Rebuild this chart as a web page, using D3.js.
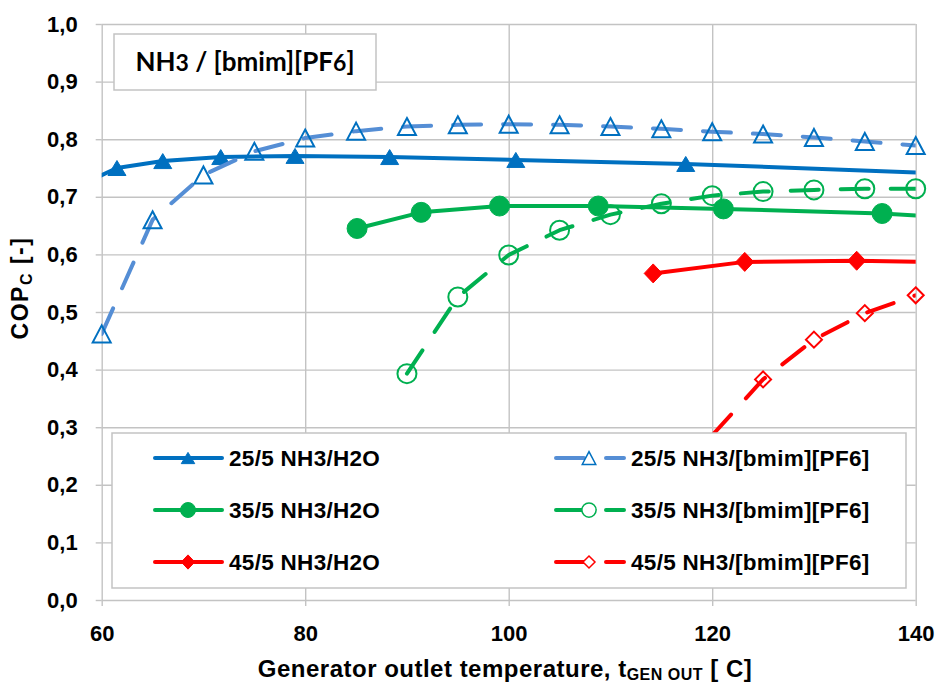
<!doctype html>
<html>
<head>
<meta charset="utf-8">
<style>
    body { margin: 0; background: #fff; }
    svg { font-family: "Liberation Sans", Arial, sans-serif; font-weight: bold; }
    .grid line { stroke: #c3c3c3; stroke-width: 1.4; }
    .grid path { display: none; }
    .axis path { display: none; }
    .axis line { stroke: #c3c3c3; stroke-width: 1.4; }
    .axis text { fill: #000; font-size: 22px; font-weight: bold; font-family: "Liberation Sans", Arial, sans-serif; }
</style>
<script src="https://d3js.org/d3.v7.min.js"></script>
</head>
<body>
<svg width="938" height="686"></svg>
<script>

// axis ticks
var xTicks = [60, 80, 100, 120, 140];
var yTicks = [0, 0.1, 0.2, 0.3, 0.4, 0.5, 0.6, 0.7, 0.8, 0.9, 1.0];

// generator outlet temperature [C] and COP
// (first / last points of the solid series sit just outside the axis range)
var h2o25Temp = [58.0, 61.5, 66.0, 71.7, 79.0, 88.3, 100.7, 117.4, 145];
var h2o25Cop  = [0.721, 0.750, 0.762, 0.769, 0.771, 0.769, 0.764, 0.757, 0.739];

var bmim25Temp = [60, 65, 70, 75, 80, 85, 90, 95, 100, 105, 110, 115, 120, 125, 130, 135, 140];
var bmim25Cop  = [0.462, 0.660, 0.738, 0.779, 0.802, 0.814, 0.822, 0.825, 0.826, 0.825, 0.822, 0.818, 0.813, 0.809, 0.803, 0.796, 0.789];

var h2o35Temp = [85.1, 91.4, 99.1, 108.8, 121.1, 136.7, 156];
var h2o35Cop  = [0.645, 0.673, 0.684, 0.684, 0.679, 0.671, 0.652];

var bmim35Temp = [90, 95, 100, 105, 110, 115, 120, 125, 130, 135, 140];
var bmim35Cop  = [0.393, 0.526, 0.599, 0.642, 0.669, 0.688, 0.702, 0.709, 0.712, 0.714, 0.714];

var h2o45Temp = [114.2, 123.2, 134.2, 148];
var h2o45Cop  = [0.567, 0.587, 0.589, 0.585];

var bmim45Temp = [120, 125, 130, 135, 140];
var bmim45Cop  = [0.286, 0.383, 0.452, 0.498, 0.529];

var names = ["25/5 NH3/H2O", "25/5 NH3/[bmim][PF6]",
             "35/5 NH3/H2O", "35/5 NH3/[bmim][PF6]",
             "45/5 NH3/H2O", "45/5 NH3/[bmim][PF6]"];

function zip(t, c) {
    return t.map(function(d, i) { return { t: d, c: c[i] }; });
}

var series = [
    { name: names[0], data: zip(h2o25Temp, h2o25Cop),   color: "#0070C0", line: "#0070C0", dash: false, marker: "triangle", filled: true },
    { name: names[1], data: zip(bmim25Temp, bmim25Cop), color: "#0070C0", line: "#558ED5", dash: true,  marker: "triangle", filled: false },
    { name: names[2], data: zip(h2o35Temp, h2o35Cop),   color: "#00B050", line: "#00B050", dash: false, marker: "circle",   filled: true },
    { name: names[3], data: zip(bmim35Temp, bmim35Cop), color: "#00B050", line: "#00B050", dash: true,  marker: "circle",   filled: false },
    { name: names[4], data: zip(h2o45Temp, h2o45Cop),   color: "#FF0000", line: "#FF0000", dash: false, marker: "diamond",  filled: true },
    { name: names[5], data: zip(bmim45Temp, bmim45Cop), color: "#FF0000", line: "#FF0000", dash: true,  marker: "diamond",  filled: false }
];

var svg = d3.select("svg");

// plot area (note: "top" is taken by window.top, so prefix everything)
var plotL = 101.7, plotR = 915.7, plotT = 24, plotB = 600;

var x = d3.scaleLinear().domain([60, 140]).range([plotL, plotR]);
var y = d3.scaleLinear().domain([0, 1]).range([plotB, plotT]);

var comma = function(d) { return d3.format(".1f")(d).replace(".", ","); };

// grid
svg.append("g")
    .attr("class", "grid")
    .attr("transform", "translate(0," + plotB + ")")
    .call(d3.axisBottom(x).tickValues(xTicks).tickSize(-(plotB - plotT)).tickFormat(""));

svg.append("g")
    .attr("class", "grid")
    .attr("transform", "translate(" + plotL + ",0)")
    .call(d3.axisLeft(y).tickValues(yTicks).tickSize(-(plotR - plotL)).tickFormat(""));

// axes with short outside ticks
svg.append("g")
    .attr("class", "axis")
    .attr("transform", "translate(0," + plotB + ")")
    .call(d3.axisBottom(x).tickValues(xTicks).tickSize(6).tickPadding(19));

svg.append("g")
    .attr("class", "axis")
    .attr("transform", "translate(" + plotL + ",0)")
    .call(d3.axisLeft(y).tickValues(yTicks).tickSize(6).tickPadding(18).tickFormat(comma));

// axis titles
var xTitle = svg.append("text")
    .attr("x", 505)
    .attr("y", 677)
    .attr("text-anchor", "middle")
    .attr("font-size", "24px")
    .attr("letter-spacing", "0.5px");
xTitle.append("tspan").text("Generator outlet temperature, t");
xTitle.append("tspan").attr("font-size", "16px").attr("dy", "3").text("GEN OUT");
xTitle.append("tspan").attr("dy", "-3").text(" [ C]");

var yTitle = svg.append("text")
    .attr("transform", "translate(28,288) rotate(-90)")
    .attr("text-anchor", "middle")
    .attr("font-size", "23px")
    .attr("letter-spacing", "1.5px");
yTitle.append("tspan").text("COP");
yTitle.append("tspan").attr("font-size", "16px").attr("dy", "4").text("C");
yTitle.append("tspan").attr("dy", "-4").text(" [-]");

// markers
function markerPath(type, filled, s) {
    if (type == "triangle") {
        var a = filled ? 7.5 : 8.5;
        return "M0," + (-a * s) + "L" + (9 * s) + "," + (a * s) + "L" + (-9 * s) + "," + (a * s) + "Z";
    }
    if (type == "circle") {
        var r = (filled ? 10 : 9.5) * s;
        return "M" + r + ",0A" + r + "," + r + " 0 1 1 " + (-r) + ",0A" + r + "," + r + " 0 1 1 " + r + ",0Z";
    }
    var w = (filled ? 9 : 8) * s, h = (filled ? 9.5 : 8) * s;
    return "M0," + (-h) + "L" + w + ",0L0," + h + "L" + (-w) + ",0Z";
}

svg.append("clipPath")
    .attr("id", "plot")
    .append("rect")
    .attr("x", plotL).attr("y", plotT)
    .attr("width", plotR - plotL).attr("height", plotB - plotT);

var line = d3.line()
    .x(function(d) { return x(d.t); })
    .y(function(d) { return y(d.c); });

series.forEach(function(s) {
    var g = svg.append("g");

    g.append("path")
        .attr("d", line(s.data))
        .attr("clip-path", "url(#plot)")
        .attr("fill", "none")
        .attr("stroke", s.line)
        .attr("stroke-width", 4)
        .attr("stroke-linejoin", "round")
        .attr("stroke-linecap", "round")
        .attr("stroke-dasharray", s.dash ? "28,22" : null);

    g.selectAll(".mk")
        .data(s.data.filter(function(d) { return d.t >= 60 && d.t <= 140 && d.c >= 0.29; }))
        .enter().append("path")
        .attr("class", "mk")
        .attr("transform", function(d) { return "translate(" + x(d.t) + "," + y(d.c) + ")"; })
        .attr("d", markerPath(s.marker, s.filled, 1))
        .attr("fill", s.filled ? s.color : "none")
        .attr("stroke", s.color)
        .attr("stroke-width", s.filled ? 1 : 2);
});

// legend
var legend = svg.append("g");
legend.append("rect")
    .attr("x", 112).attr("y", 433)
    .attr("width", 794).attr("height", 155)
    .attr("fill", "#fff")
    .attr("stroke", "#c3c3c3")
    .attr("stroke-width", 1.5);

series.forEach(function(s, i) {
    var col = i % 2, row = Math.floor(i / 2);
    var ly = 458 + row * 52;
    var x0 = col ? 556 : 155, x1 = col ? 624 : 222, mx = col ? 589 : 188, tx = col ? 631 : 229;

    legend.append("line")
        .attr("x1", x0).attr("x2", x1)
        .attr("y1", ly).attr("y2", ly)
        .attr("stroke", s.line)
        .attr("stroke-width", 4)
        .attr("stroke-linecap", "round")
        .attr("stroke-dasharray", s.dash ? "28,22" : null);

    legend.append("path")
        .attr("transform", "translate(" + mx + "," + ly + ")")
        .attr("d", markerPath(s.marker, s.filled, 0.75))
        .attr("fill", s.filled ? s.color : "#fff")
        .attr("stroke", s.color)
        .attr("stroke-width", s.filled ? 1 : 1.5);

    legend.append("text")
        .attr("x", tx).attr("y", ly)
        .attr("dy", "0.36em")
        .attr("font-size", "22.5px")
        .attr("letter-spacing", "0.3px")
        .text(s.name);
});

// annotation box
svg.append("rect")
    .attr("x", 114).attr("y", 34)
    .attr("width", 262).attr("height", 56)
    .attr("fill", "#fff")
    .attr("stroke", "#c3c3c3")
    .attr("stroke-width", 1.5);

var note = svg.append("text")
    .attr("x", 245).attr("y", 71)
    .attr("text-anchor", "middle")
    .attr("font-family", "Lato, 'Open Sans', sans-serif")
    .attr("font-size", "26px");
note.append("tspan").text("NH");
note.append("tspan").attr("font-size", "23px").text("3");
note.append("tspan").text(" / [bmim][PF");
note.append("tspan").attr("font-size", "23px").text("6");
note.append("tspan").text("]");

</script>
</body>
</html>
